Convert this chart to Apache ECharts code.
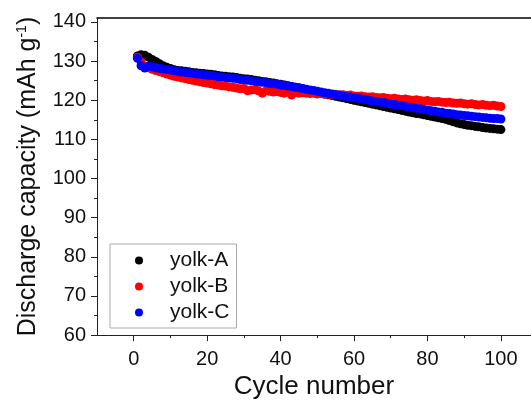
<!DOCTYPE html>
<html>
<head>
<meta charset="utf-8">
<script src="https://cdn.jsdelivr.net/npm/echarts@6/dist/echarts.min.js"></script>
<style>
  html, body { margin: 0; padding: 0; background: #fff; }
  #chart { width: 531px; height: 405px; }
</style>
</head>
<body>
<div id="chart"></div>
<script>
var FONT = 'Liberation Sans, Arial, sans-serif';
var seriesNames = ['yolk-A', 'yolk-B', 'yolk-C'];
var seriesColors = ['#000000', '#ff0000', '#0000ff'];
var xMajorTicks = [0, 20, 40, 60, 80, 100];
var xMinorTicks = [10, 30, 50, 70, 90];
var yMajorTicks = [60, 70, 80, 90, 100, 110, 120, 130, 140];
var yMinorTicks = [65, 75, 85, 95, 105, 115, 125, 135];
// the original plot is cut off at the right edge of the picture
var X_MIN = -10;
var X_MAX = 108.2;

// capacity per cycle (cycles 1..100)
var yolkA = [
    131.3, 131.6, 131.5, 131.0, 130.4, 129.9, 129.3, 128.8, 128.4, 128.1,
    127.8, 127.6, 127.5, 127.4, 127.3, 127.1, 127.0, 126.9, 126.8, 126.7,
    126.6, 126.5, 126.3, 126.2, 126.1, 126.0, 125.9, 125.8, 125.6, 125.5,
    125.4, 125.3, 125.1, 125.0, 124.8, 124.7, 124.5, 124.4, 124.2, 124.1,
    123.9, 123.7, 123.5, 123.3, 123.1, 122.9, 122.7, 122.5, 122.3, 122.1,
    121.8, 121.6, 121.4, 121.2, 121.0, 120.8, 120.6, 120.4, 120.2, 120.0,
    119.8, 119.6, 119.4, 119.2, 119.0, 118.8, 118.6, 118.4, 118.2, 118.0,
    117.8, 117.6, 117.4, 117.2, 117.0, 116.8, 116.6, 116.5, 116.3, 116.1,
    115.9, 115.7, 115.5, 115.3, 115.1, 114.8, 114.5, 114.2, 114.0, 113.8,
    113.6, 113.5, 113.3, 113.2, 113.0, 112.9, 112.8, 112.7, 112.6, 112.5
];
var yolkB = [
    131.0, 129.8, 128.6, 128.3, 127.9, 127.6, 127.3, 127.0, 126.7, 126.4,
    126.1, 125.9, 125.7, 125.5, 125.3, 125.1, 124.9, 124.7, 124.5, 124.4,
    124.2, 124.0, 123.9, 123.7, 123.6, 123.4, 123.3, 123.1, 122.9, 123.0,
    122.4, 122.6, 122.7, 122.4, 121.8, 122.4, 122.3, 122.1, 122.2, 122.0,
    121.8, 122.1, 121.3, 122.0, 121.8, 121.9, 121.8, 121.7, 121.8, 121.6,
    121.7, 121.5, 121.6, 121.4, 121.5, 121.3, 121.4, 121.2, 121.3, 121.1,
    121.0, 121.1, 120.9, 120.8, 120.9, 120.7, 120.6, 120.7, 120.5, 120.4,
    120.5, 120.3, 120.2, 120.3, 120.1, 120.0, 120.1, 119.9, 119.8, 119.9,
    119.7, 119.6, 119.7, 119.5, 119.4, 119.5, 119.3, 119.2, 119.3, 119.1,
    119.0, 119.1, 118.9, 118.8, 118.9, 118.7, 118.6, 118.7, 118.5, 118.4
];
var yolkC = [
    130.7, 128.8, 128.2, 128.7, 128.5, 128.3, 128.1, 128.0, 127.8, 127.7,
    127.5, 127.4, 127.2, 127.1, 127.0, 126.9, 126.7, 126.6, 126.5, 126.4,
    126.3, 126.2, 126.0, 125.9, 125.8, 125.7, 125.6, 125.5, 125.3, 125.2,
    125.1, 125.0, 124.8, 124.7, 124.6, 124.5, 124.3, 124.2, 124.1, 123.9,
    123.8, 123.6, 123.5, 123.3, 123.2, 123.0, 122.8, 122.6, 122.5, 122.3,
    122.1, 121.9, 121.8, 121.6, 121.4, 121.3, 121.1, 120.9, 120.8, 120.6,
    120.5, 120.3, 120.2, 120.0, 119.8, 119.7, 119.5, 119.4, 119.2, 119.0,
    118.9, 118.7, 118.6, 118.4, 118.2, 118.1, 117.9, 117.8, 117.6, 117.5,
    117.3, 117.2, 117.0, 116.9, 116.7, 116.6, 116.5, 116.3, 116.2, 116.1,
    116.0, 115.9, 115.8, 115.7, 115.6, 115.5, 115.4, 115.3, 115.3, 115.2
];
var seriesValues = [yolkA, yolkB, yolkC];

function toPoints(values){
    var pts = [];
    for(var i = 0; i < values.length; i++){
        pts.push([i + 1, values[i]]);
    }
    return pts;
}

var myChart = echarts.init(document.getElementById('chart'), null, {renderer: 'canvas'});

var axisLineStyle = {color: '#222', width: 1};
var labelStyle = {color: '#111', fontSize: 20, fontFamily: FONT};

var series = [];
for(var s = 0; s < seriesNames.length; s++){
    series.push({
        name: seriesNames[s],
        type: 'scatter',
        data: toPoints(seriesValues[s]),
        symbol: 'circle',
        symbolSize: 9,
        itemStyle: {color: seriesColors[s], opacity: 1},
        animation: false,
        z: 2 + s
    });
}

var option = {
    backgroundColor: '#fff',
    animation: false,
    grid: {left: 97, top: 18, right: 0, height: 324, containLabel: false},
    legend: {
        data: seriesNames,
        orient: 'vertical',
        left: 110,
        top: 244,
        itemWidth: 8,
        itemHeight: 8,
        itemGap: 5,
        icon: 'circle',
        itemStyle: {opacity: 1},
        borderColor: '#aaa',
        borderWidth: 1,
        padding: [6, 7, 5, 25],
        textStyle: {fontSize: 21, fontFamily: FONT, color: '#111', padding: [0, 0, 0, 22]}
    },
    xAxis: [{
        type: 'value',
        min: X_MIN,
        max: X_MAX,
        name: 'Cycle number',
        nameLocation: 'middle',
        nameGap: 35,
        nameTextStyle: {fontSize: 26, fontFamily: FONT, color: '#111'},
        axisLine: {show: true, onZero: false, lineStyle: axisLineStyle},
        axisTick: {show: true, length: 6, customValues: xMajorTicks, lineStyle: axisLineStyle},
        axisLabel: {margin: 14, customValues: xMajorTicks, textStyle: labelStyle},
        splitLine: {show: false}
    }, {
        type: 'value',
        position: 'bottom',
        min: X_MIN,
        max: X_MAX,
        axisLine: {show: false, onZero: false},
        axisTick: {show: true, length: 3, customValues: xMinorTicks, lineStyle: axisLineStyle},
        axisLabel: {show: false},
        splitLine: {show: false}
    }, {
        type: 'value',
        position: 'top',
        min: X_MIN,
        max: X_MAX,
        axisLine: {show: true, onZero: false, lineStyle: {color: '#000', width: 1.5}},
        axisTick: {show: false},
        axisLabel: {show: false},
        splitLine: {show: false}
    }],
    yAxis: [{
        type: 'value',
        min: 60,
        max: 141,
        name: 'Discharge capacity (mAh g{sup|-1})',
        nameLocation: 'middle',
        nameGap: 56,
        nameTextStyle: {
            fontSize: 25,
            fontFamily: FONT,
            color: '#111',
            rich: {
                sup: {fontSize: 14, fontFamily: FONT, color: '#111', verticalAlign: 'top', padding: [0, 0, 12, 0]}
            }
        },
        axisLine: {show: true, onZero: false, lineStyle: axisLineStyle},
        axisTick: {show: true, length: 6, customValues: yMajorTicks, lineStyle: axisLineStyle},
        axisLabel: {margin: 11, customValues: yMajorTicks, textStyle: labelStyle},
        splitLine: {show: false}
    }, {
        type: 'value',
        position: 'left',
        min: 60,
        max: 141,
        axisLine: {show: false, onZero: false},
        axisTick: {show: true, length: 3, customValues: yMinorTicks, lineStyle: axisLineStyle},
        axisLabel: {show: false},
        splitLine: {show: false}
    }],
    series: series
};

myChart.setOption(option);
</script>
</body>
</html>
